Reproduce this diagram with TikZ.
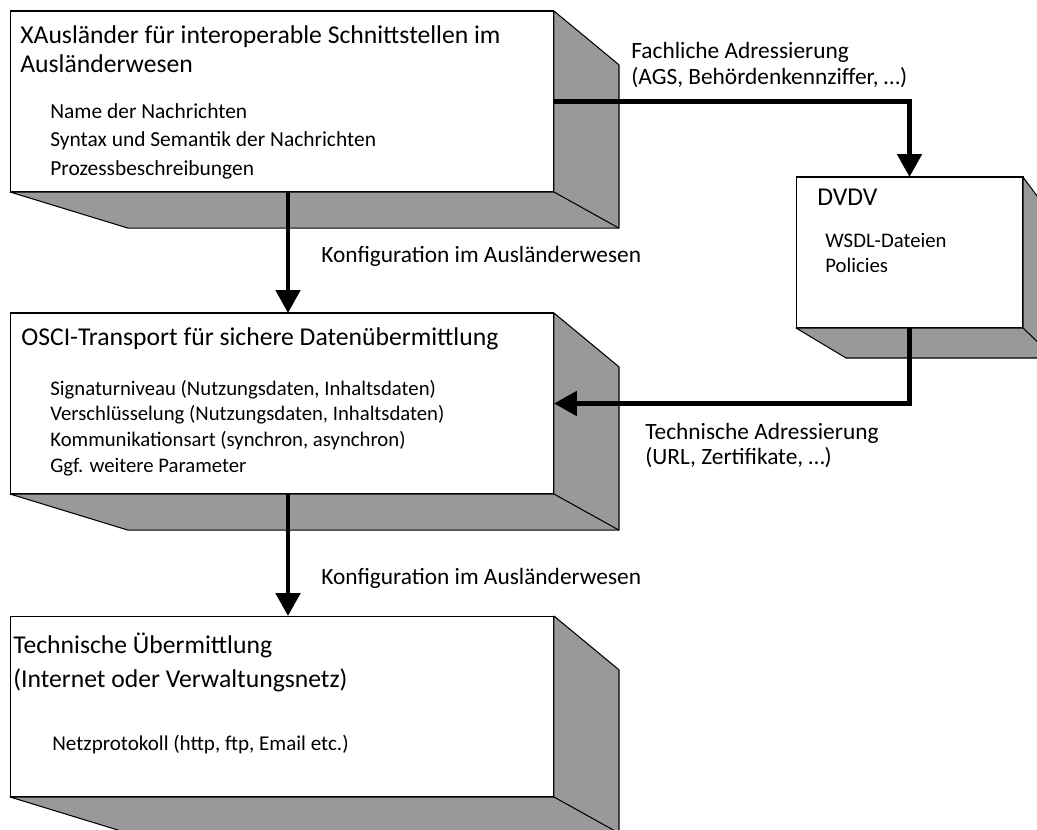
\documentclass[tikz,border=0pt]{standalone}
\usepackage{fontspec}
\setmainfont{Carlito}
\usetikzlibrary{calc, arrows.meta}
\definecolor{side}{RGB}{153,153,153}
\tikzset{
  face/.style={draw, fill=white, line width=0.6pt, inner sep=0pt, outer sep=0pt},
  txt/.style={anchor=base west, inner sep=0pt, align=left},
  ttl/.style={txt, font=\fontsize{14.6}{16.4}\selectfont},
  itm/.style={txt, font=\fontsize{11.8}{16.2}\selectfont},
  lbl/.style={txt, font=\fontsize{13.3}{14.5}\selectfont},
  flow/.style={line width=2.8pt, -{Triangle[length=13pt,width=13.6pt]}},
}
% grey depth of a box: node, vanishing point, factor
\newcommand{\depthfaces}[3]{%
  \filldraw[fill=side, line width=0.6pt, line join=round]
    (#1.north east) -- ($(#1.north east)!#3!(#2)$) -- ($(#1.south east)!#3!(#2)$)
    -- ($(#1.south west)!#3!(#2)$) -- (#1.south west) -- (#1.south east) -- cycle;
  \draw[line width=0.6pt] (#1.south east) -- ($(#1.south east)!#3!(#2)$);}
\begin{document}
\begin{tikzpicture}[x=0.02cm, y=-0.02cm]
  \useasboundingbox (0,0) rectangle (1037,829);
  \clip (0,0) rectangle (1037,829);

  % front faces
  \node[face, minimum width=10.88cm, minimum height=3.62cm] (xa) at (282,101.5) {};
  \node[face, minimum width=10.88cm, minimum height=3.62cm] (osci) at (282,403.5) {};
  \node[face, minimum width=10.88cm, minimum height=3.62cm] (tech) at (282,706.5) {};
  \node[face, minimum width=4.54cm, minimum height=3.02cm] (dvdv) at (909.5,252.5) {};

  % vanishing points
  \coordinate (vpxa) at (1221,563);
  \coordinate (vposci) at (1221,865);
  \coordinate (vptech) at (1221,1168);
  \coordinate (vpdvdv) at (1406,694);

  \depthfaces{xa}{vpxa}{0.0975}
  \depthfaces{osci}{vposci}{0.0975}
  \depthfaces{tech}{vptech}{0.0975}
  \depthfaces{dvdv}{vpdvdv}{0.082}

  % connectors
  \draw[flow] ([xshift=0.12cm]xa.south) -- ([xshift=0.12cm]osci.north);
  \draw[flow] ([xshift=0.12cm]osci.south) -- ([xshift=0.12cm]tech.north);
  \draw[flow] (xa.east) -| (dvdv.north);
  \draw[flow] (dvdv.south) |- (osci.east);

  % texts (base = last line)
  \node[ttl] (xattl) at (20,72) {XAusländer für interoperable Schnittstellen im\\Ausländerwesen};
  \node[itm, font=\fontsize{12.2}{16.2}\selectfont] (xaitm) at (50,175) {Name der Nachrichten\\Syntax und Semantik der Nachrichten\\Prozessbeschreibungen};
  \node[ttl] (osttl) at (21,345) {OSCI-Transport für sichere Datenübermittlung};
  \node[itm, font=\fontsize{11.8}{14.6}\selectfont] (ositm) at (50,472) {Signaturniveau (Nutzungsdaten, Inhaltsdaten)\\Verschlüsselung (Nutzungsdaten, Inhaltsdaten)\\Kommunikationsart (synchron, asynchron)\\Ggf. weitere Parameter};
  \node[ttl] (dvttl) at (817,205) {DVDV};
  \node[itm, font=\fontsize{11.8}{14.2}\selectfont] (dvitm) at (825,272) {WSDL-Dateien\\Policies};
  \node[ttl, font=\fontsize{14.6}{19.3}\selectfont] (tettl) at (13,687) {Technische Übermittlung\\(Internet oder Verwaltungsnetz)};
  \node[itm, font=\fontsize{12}{16}\selectfont] (teitm) at (52,750) {Netzprotokoll (http, ftp, Email etc.)};
  \node[lbl] (konfa) at (321,262) {Konfiguration im Ausländerwesen};
  \node[lbl] (konfb) at (321,584) {Konfiguration im Ausländerwesen};
  \node[lbl, font=\fontsize{13.3}{14.7}\selectfont] (fach) at (631,84) {Fachliche Adressierung\\(AGS, Behördenkennziffer, …)};
  \node[lbl, font=\fontsize{13.3}{14.2}\selectfont] (techadr) at (645,464) {Technische Adressierung\\(URL, Zertifikate, …)};
\end{tikzpicture}
\end{document}
